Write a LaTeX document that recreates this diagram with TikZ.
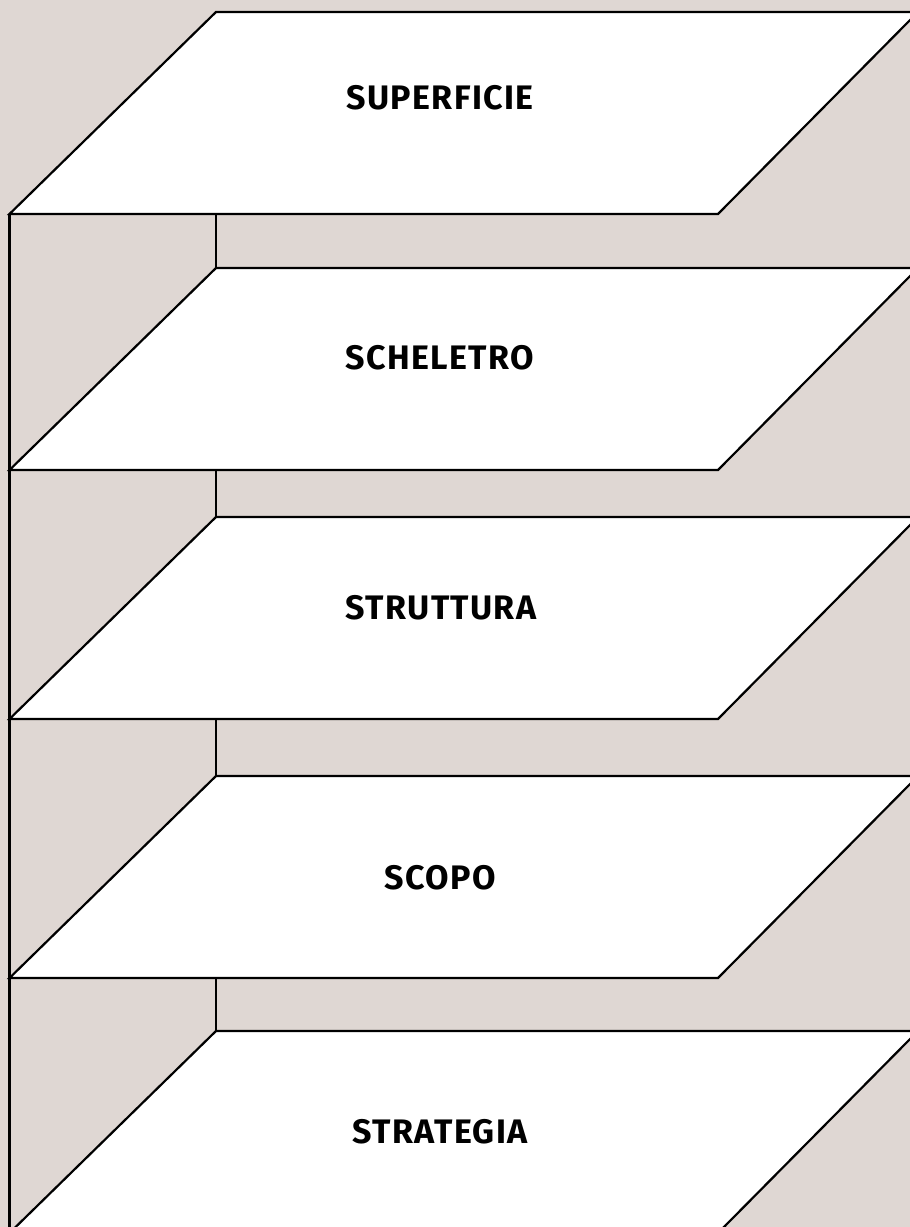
\documentclass[tikz,border=0pt]{standalone}
\usepackage{fontspec}
\setmainfont{Fira Sans}
\newfontfamily\lblfont[LetterSpace=4]{Fira Sans}
\definecolor{bg}{RGB}{223,215,211}
\begin{document}
\begin{tikzpicture}[x=1pt,y=-1pt,
  plane/.style={fill=white,draw=black,line width=2.2pt,line join=miter},
  edgeline/.style={draw=black,line width=2.2pt},
  lbl/.style={font=\lblfont\fontsize{34}{34}\selectfont\bfseries,text=black,inner sep=0pt,anchor=center}]
\useasboundingbox (0,0) rectangle (910,1227);
\clip (0,0) rectangle (910,1227);
\fill[bg] (0,0) rectangle (910,1227);
\foreach \n/\t in {1/12,2/268,3/517,4/776,5/1031}{
  \coordinate (tl\n) at (216,\t);
  \coordinate (tr\n) at (918,\t);
  \coordinate (bl\n) at (9.5,\t+202);
  \coordinate (br\n) at (718,\t+202);
  \coordinate (j\n) at (216,\t+202);
}
\coordinate (bottomend) at (9.5,1245);
\draw[edgeline] (bl1) -- (bottomend);
\foreach \n in {1,...,5}{
  \draw[plane] (bl\n) -- (tl\n) -- (tr\n) -- (br\n) -- cycle;
}
\foreach \n/\m in {1/2,2/3,3/4,4/5}{
  \draw[edgeline] (j\n) -- (tl\m);
}
\node[lbl] (superficie) at (440,98) {SUPERFICIE};
\node[lbl] (scheletro) at (440,358) {SCHELETRO};
\node[lbl] (struttura) at (441,608) {STRUTTURA};
\node[lbl] (scopo) at (440,878) {SCOPO};
\node[lbl] (strategia) at (440,1132) {STRATEGIA};
\end{tikzpicture}
\end{document}
